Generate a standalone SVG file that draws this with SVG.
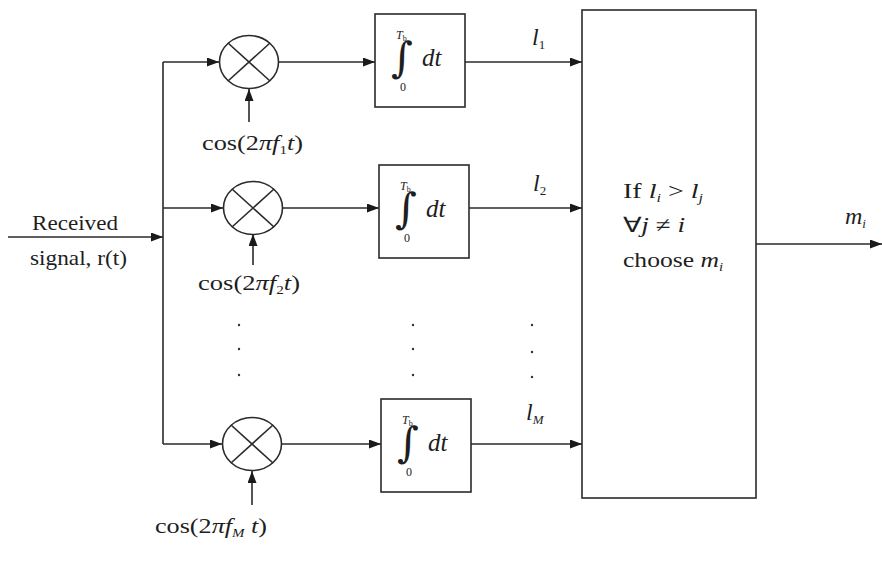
<svg xmlns="http://www.w3.org/2000/svg" width="882" height="572" viewBox="0 0 882 572">
<defs>
<marker id="ah" viewBox="0 0 12 9" refX="12" refY="4.5" markerWidth="12" markerHeight="9" markerUnits="userSpaceOnUse" orient="auto">
<path d="M0,0 L12,4.5 L0,9 Z" fill="#1a1a1a"/>
</marker>
<g id="integ">
<rect x="0" y="0" width="90" height="93" class="box"/>
<text x="21" y="25" class="sm"><tspan font-style="italic">T</tspan><tspan font-size="8" dy="2">b</tspan></text>
<text x="27" y="58" class="int" text-anchor="middle">∫</text>
<text x="28" y="77" class="sm" text-anchor="middle">0</text>
<text x="47" y="52" class="dt">dt</text>
</g>
<g id="mix">
<ellipse cx="0" cy="0" rx="29.5" ry="26.5" class="box"/>
<path d="M-21,-19 L21,19 M21,-19 L-21,19" class="ln"/>
</g>
</defs>
<style>
.ln{stroke:#2a2a2a;stroke-width:1.6;fill:none}
.box{stroke:#2a2a2a;stroke-width:1.6;fill:#fff}
.arr{stroke:#2a2a2a;stroke-width:1.6;fill:none;marker-end:url(#ah)}
text{font-family:"Liberation Serif","Times New Roman",serif;fill:#1e1e1e}
.lbl{font-size:21px}
.big{font-size:24px}
.sm{font-size:12px}
.int{font-size:42px;font-family:"DejaVu Serif","Liberation Serif",serif}
.dt{font-size:25px;font-style:italic}
.it{font-style:italic}
.dot{fill:#333}
</style>
<rect width="882" height="572" fill="#fff"/>

<g id="connectors">
<line x1="8" y1="237" x2="163" y2="237" class="arr"/>
<line x1="163" y1="62" x2="163" y2="444" class="ln"/>
<line x1="163" y1="62" x2="219" y2="62" class="arr"/>
<line x1="163" y1="208" x2="223" y2="208" class="arr"/>
<line x1="163" y1="444" x2="222" y2="444" class="arr"/>
<line x1="249" y1="122" x2="249" y2="89" class="arr"/>
<line x1="253" y1="265" x2="253" y2="234" class="arr"/>
<line x1="252" y1="505" x2="252" y2="471" class="arr"/>
<line x1="279" y1="62" x2="375" y2="62" class="arr"/>
<line x1="283" y1="208" x2="379" y2="208" class="arr"/>
<line x1="281" y1="444" x2="381" y2="444" class="arr"/>
<line x1="465" y1="62" x2="582" y2="62" class="arr"/>
<line x1="468" y1="208" x2="582" y2="208" class="arr"/>
<line x1="471" y1="444" x2="582" y2="444" class="arr"/>
<line x1="756" y1="244" x2="882" y2="244" class="arr"/>
</g>

<g id="input-label">
<text x="32" y="230" class="lbl" textLength="86" lengthAdjust="spacingAndGlyphs">Received</text>
<text x="30" y="265" class="lbl" textLength="97" lengthAdjust="spacingAndGlyphs">signal, r(t)</text>
</g>

<g id="mixer1">
<use href="#mix" x="249" y="62"/>
<text x="202" y="150" class="lbl" textLength="101" lengthAdjust="spacingAndGlyphs">cos(2<tspan class="it">πf</tspan><tspan font-size="12" dy="4">1</tspan><tspan class="it" dy="-4">t</tspan>)</text>
</g>
<g id="mixer2">
<use href="#mix" x="253" y="208"/>
<text x="198" y="290" class="lbl" textLength="102" lengthAdjust="spacingAndGlyphs">cos(2<tspan class="it">πf</tspan><tspan font-size="12" dy="4">2</tspan><tspan class="it" dy="-4">t</tspan>)</text>
</g>
<g id="mixer3">
<use href="#mix" x="252" y="444"/>
<text x="155" y="533" class="lbl" textLength="112" lengthAdjust="spacingAndGlyphs">cos(2<tspan class="it">πf</tspan><tspan font-size="12" font-style="italic" dy="4">M</tspan><tspan class="it" dy="-4"> t</tspan>)</text>
</g>

<g id="integrator1"><use href="#integ" x="375" y="14"/></g>
<g id="integrator2"><use href="#integ" x="379" y="165"/></g>
<g id="integrator3"><use href="#integ" x="381" y="399"/></g>

<g id="outputs">
<text x="532" y="45" class="big it">l<tspan font-size="13" font-style="normal" dy="4">1</tspan></text>
<text x="533" y="191" class="big it">l<tspan font-size="13" font-style="normal" dy="4">2</tspan></text>
<text x="526" y="420" class="big it">l<tspan font-size="13" dy="4">M</tspan></text>
</g>

<g id="dots">
<circle cx="239" cy="325" r="1.2" class="dot"/>
<circle cx="239" cy="349" r="1.2" class="dot"/>
<circle cx="239" cy="375" r="1.2" class="dot"/>
<circle cx="413" cy="325" r="1.2" class="dot"/>
<circle cx="413" cy="349" r="1.2" class="dot"/>
<circle cx="413" cy="375" r="1.2" class="dot"/>
<circle cx="532" cy="325" r="1.2" class="dot"/>
<circle cx="532" cy="352" r="1.2" class="dot"/>
<circle cx="532" cy="377" r="1.2" class="dot"/>
</g>

<g id="decision">
<rect x="582" y="10" width="174" height="488" class="box"/>
<text x="623" y="198" class="lbl" textLength="80" lengthAdjust="spacingAndGlyphs">If <tspan class="it">l</tspan><tspan font-size="12" class="it" dy="4">i</tspan><tspan dy="-4"> &gt; </tspan><tspan class="it">l</tspan><tspan font-size="12" class="it" dy="4">j</tspan></text>
<text x="623" y="232" class="lbl" textLength="62" lengthAdjust="spacingAndGlyphs">∀<tspan class="it">j</tspan> ≠ <tspan class="it">i</tspan></text>
<text x="623" y="267" class="lbl" textLength="100" lengthAdjust="spacingAndGlyphs">choose <tspan class="it">m</tspan><tspan font-size="12" class="it" dy="4">i</tspan></text>
</g>

<g id="output-label">
<text x="845" y="224" class="big it">m<tspan font-size="13" dy="4">i</tspan></text>
</g>
</svg>
